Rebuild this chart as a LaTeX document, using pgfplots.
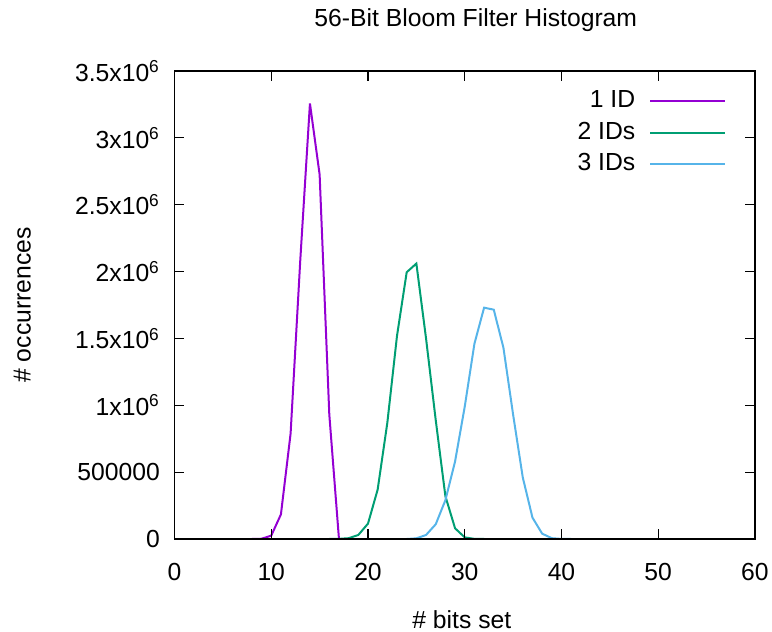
\documentclass[border=0pt]{standalone}
\usepackage{fontspec}
\setmainfont{Liberation Sans}
\usepackage{pgfplots}
\pgfplotsset{compat=1.18}
\definecolor{gpPurple}{HTML}{9400D3}
\definecolor{gpGreen}{HTML}{009E73}
\definecolor{gpCyan}{HTML}{56B4E9}

\begin{document}
\fontsize{12.4}{14.9}\selectfont
\begin{tikzpicture}
\path[use as bounding box] (-87.25bp,-46.5bp) rectangle (298.75bp,269.5bp);
\begin{axis}[
    at={(0,0)}, anchor=south west,
    width=290.25bp, height=234bp, scale only axis,
    xmin=0, xmax=60, ymin=0, ymax=3500000,
    xtick={0,10,20,30,40,50,60},
    ytick={0,500000,1000000,1500000,2000000,2500000,3000000,3500000},
    yticklabels={0,500000,1x10\textsuperscript{6},1.5x10\textsuperscript{6},2x10\textsuperscript{6},2.5x10\textsuperscript{6},3x10\textsuperscript{6},3.5x10\textsuperscript{6}},
    scaled y ticks=false,
    tick pos=both,
    tick align=inside, major tick length=5bp,
    tick style={black, line width=0.6pt},
    axis line style={black, line width=0.8pt},
    axis on top,
    /pgf/number format/assume math mode=true,
    xticklabel style={yshift=-8bp},
    yticklabel style={xshift=-3bp},
    title={56-Bit Bloom Filter Histogram},
    title style={at={(axis description cs:0.519,1.070)}, anchor=base},
    xlabel={\# bits set},
    xlabel style={at={(axis description cs:0.495,-0.192)}, anchor=base},
    ylabel={\# occurrences},
    ylabel style={at={(axis description cs:-0.262,0.5)}, anchor=center},
    legend plot pos=right,
    legend cell align=right,
    legend image code/.code={\path (0bp,0bp); \draw[#1] (5bp,0bp) -- (42.5bp,0bp);},
    legend style={draw=none, fill=none, at={(axis description cs:1,1)}, anchor=north east,
        xshift=-11.2bp, yshift=-5.7bp, row sep=1.3bp},
]
\addplot[gpPurple, line width=1bp] table {
x y
8 0
9 2000
10 25000
11 184000
12 788000
13 2084000
14 3257000
15 2726000
16 932000
17 0
};
\addlegendentry{1 ID}
\addplot[gpGreen, line width=1bp] table {
x y
16 0
17 1000
18 6000
19 30000
20 115000
21 370000
22 870000
23 1520000
24 1995000
25 2060000
26 1500000
27 890000
28 320000
29 80000
30 12000
31 1000
32 0
};
\addlegendentry{2 IDs}
\addplot[gpCyan, line width=1bp] table {
x y
24 0
25 5000
26 30000
27 110000
28 290000
29 580000
30 990000
31 1460000
32 1730000
33 1715000
34 1430000
35 930000
36 460000
37 160000
38 40000
39 6000
40 500
41 0
};
\addlegendentry{3 IDs}
\end{axis}
\end{tikzpicture}
\end{document}
